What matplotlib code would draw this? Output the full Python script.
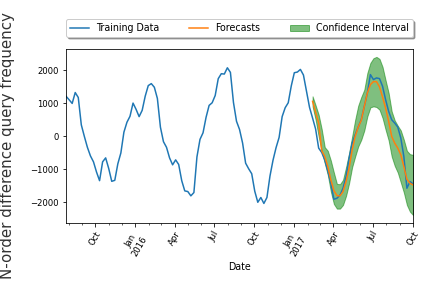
import matplotlib
matplotlib.use("Agg")
import matplotlib.pyplot as plt
import matplotlib.dates as mdates
import numpy as np
import pandas as pd

# weekly training data (2015-07-26 .. 2017-10-01)
train_start = "2015-07-26"
train_values = [
    1215, 1110, 1000, 1330, 1180, 350, 0, -330, -590, -770,
    -1080, -1340, -770, -650, -970, -1360, -1330, -830, -500, 130,
    430, 610, 1010, 820, 600, 790, 1220, 1540, 1600, 1490,
    1150, 280, -160, -330, -650, -860, -710, -850, -1340, -1650,
    -1670, -1800, -1700, -620, -90, 110, 580, 940, 1020, 1240,
    1750, 1900, 1890, 2080, 1940, 1030, 460, 210, -200, -810,
    -980, -1130, -1660, -1995, -1850, -2030, -1850, -1200, -720, -340,
    -30, 600, 870, 1020, 1530, 1930, 1950, 2030, 1860, 1370,
    880, 557, 223, -354, -486, -709, -1043, -1418, -1904, -1873,
    -1782, -1570, -1215, -658, -203, 51, 284, 506, 911, 1316,
    1873, 1722, 1772, 1752, 1519, 1114, 759, 506, 405, 284,
    -51, -608, -1570, -1367, -1438,
]

# weekly forecasts (2017-02-12 .. 2017-10-01)
fc_start = "2017-02-12"
fc_values = [
    1063, 729, 405, -435, -608, -911, -1316, -1640, -1792, -1802,
    -1671, -1367, -962, -405, 0, 284, 486, 911, 1316, 1570,
    1660, 1660, 1500, 1195, 861, 456, 0, -203, -354, -557,
    -911, -1296, -1418, -1468,
]
ci_upper = [
    1215, 942, 658, 223, -324, -435, -729, -1094, -1438, -1448,
    -1316, -932, -506, 0, 506, 932, 1195, 1418, 1924, 2228,
    2370, 2410, 2349, 2106, 1701, 1316, 759, 486, 324, 182,
    -101, -435, -537, -557,
]
ci_lower = [
    911, 506, 0, -456, -810, -1165, -1671, -2046, -2187, -2187,
    -2076, -1802, -1418, -932, -608, -304, -101, 182, 608, 881,
    911, 891, 810, 557, 203, -122, -608, -891, -1094, -1397,
    -1701, -2076, -2278, -2380,
]

train_dates = pd.date_range(train_start, periods=len(train_values), freq="7D")
fc_dates = pd.date_range(fc_start, periods=len(fc_values), freq="7D")

fig = plt.figure(figsize=(6, 4), dpi=72)
ax = fig.add_axes([0.153, 0.226, 0.803, 0.604])

ax.plot(train_dates, train_values, color="#1f77b4", lw=1.5, label="Training Data")
ax.plot(fc_dates, fc_values, color="#ff7f0e", lw=1.5, label="Forecasts")
ax.fill_between(fc_dates, ci_lower, ci_upper, color="g", alpha=0.5,
                label="Confidence Interval")

ax.set_xlim(train_dates[0], train_dates[-1])
ax.set_ylim(-2620, 2650)
ax.set_yticks([-2000, -1000, 0, 1000, 2000])

ax.xaxis.set_major_locator(mdates.MonthLocator(bymonth=[1, 4, 7, 10]))
ax.xaxis.set_minor_locator(mdates.MonthLocator())


def fmt(x, pos=None):
    d = mdates.num2date(x)
    if d.month == 1:
        return d.strftime("%b\n%Y")
    return d.strftime("%b")


ax.xaxis.set_major_formatter(plt.FuncFormatter(fmt))
ax.tick_params(axis="both", labelsize=8.5)
for lab in ax.get_xticklabels():
    lab.set_rotation(60)

ax.set_xlabel("Date", fontsize=9.5)
ax.set_ylabel("N-order difference query frequency", fontsize=15, color="#333333")
ax.yaxis.set_label_coords(-0.147, 0.445)

ax.legend(loc="lower left", bbox_to_anchor=(0, 1.069, 1, 0.1), mode="expand",
          ncol=3, borderaxespad=0, fontsize=9.5, shadow=True, fancybox=True)

fig.savefig("out.png", dpi=72)
